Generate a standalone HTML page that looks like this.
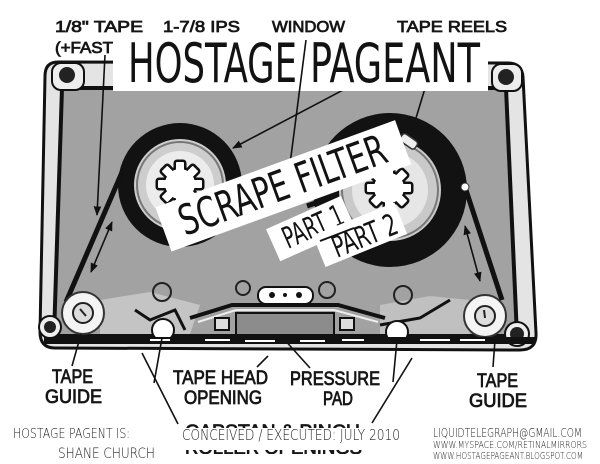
<!DOCTYPE html>
<html><head><meta charset="utf-8"><style>
html,body{margin:0;padding:0;background:#fff;}
svg{display:block}
.lb{font-family:"Liberation Sans","DejaVu Sans",sans-serif;font-weight:normal;fill:#161616;stroke:#161616;stroke-width:0.8}
.hw{font-family:"Liberation Sans Narrow","DejaVu Sans Condensed","Liberation Sans",sans-serif;fill:#121212}
.pen{font-family:"DejaVu Sans","Liberation Sans",sans-serif;font-weight:200;fill:#222}
</style></head><body>
<svg width="600" height="464" viewBox="0 0 600 464" xmlns="http://www.w3.org/2000/svg">
<defs>
<marker id="ah" viewBox="0 0 10 10" refX="9" refY="5" markerWidth="6" markerHeight="6" orient="auto-start-reverse"><path d="M0,1 L10,5 L0,9 Z" fill="#111"/></marker>
<g id="gear">
<circle r="15"/>
<rect x="-4" y="-22" width="8" height="10" rx="1"/>
<rect x="-4" y="-22" width="8" height="10" rx="1" transform="rotate(45)"/>
<rect x="-4" y="-22" width="8" height="10" rx="1" transform="rotate(90)"/>
<rect x="-4" y="-22" width="8" height="10" rx="1" transform="rotate(135)"/>
<rect x="-4" y="-22" width="8" height="10" rx="1" transform="rotate(180)"/>
<rect x="-4" y="-22" width="8" height="10" rx="1" transform="rotate(225)"/>
<rect x="-4" y="-22" width="8" height="10" rx="1" transform="rotate(270)"/>
<rect x="-4" y="-22" width="8" height="10" rx="1" transform="rotate(315)"/>
</g>
</defs>
<rect width="600" height="464" fill="#fff"/>

<!-- cassette body -->
<path d="M58,62 L508,63 Q522,63 523,77 L536,333 Q537,350 520,350 L55,348 Q40,348 40,332 L45,76 Q45,62 58,62 Z" fill="#e4e4e4" stroke="#111" stroke-width="3"/>
<path d="M62,88 L506,88 L517,336 L54,336 Z" fill="#a2a2a2" stroke="#111" stroke-width="4"/>
<path d="M100,300 L150,292 L200,305 L190,334 L100,334 Z" fill="#c4c4c4"/>
<path d="M380,305 L430,296 L470,300 L470,334 L380,334 Z" fill="#c0c0c0"/>

<!-- corners / screws -->
<rect x="52" y="63" width="32" height="27" rx="9" fill="#eee" stroke="#111" stroke-width="2"/>
<circle cx="67" cy="75" r="8" fill="#222"/>
<rect x="492" y="64" width="30" height="27" rx="9" fill="#eee" stroke="#111" stroke-width="2"/>
<circle cx="506" cy="77" r="8" fill="#222"/>
<circle cx="50" cy="327" r="11" fill="#eee" stroke="#111" stroke-width="2"/>
<circle cx="50" cy="327" r="6" fill="#222"/>
<circle cx="517" cy="334" r="12" fill="#eee" stroke="#111" stroke-width="2"/>
<circle cx="517" cy="334" r="7" fill="#222"/>

<!-- left reel -->
<circle cx="180" cy="185" r="62" fill="#121212"/>
<circle cx="180" cy="185" r="46" fill="#cdcdcd"/>
<circle cx="180" cy="185" r="43" fill="none" stroke="#777" stroke-width="2"/>
<circle cx="180" cy="185" r="34" fill="#ececec"/>
<use href="#gear" transform="translate(180,184)" fill="#111" stroke="#111" stroke-width="5"/>
<use href="#gear" transform="translate(180,184)" fill="#fff"/>

<!-- right reel -->
<circle cx="390" cy="190" r="77" fill="#121212"/>
<circle cx="390" cy="190" r="51" fill="#c9c9c9"/>
<circle cx="390" cy="190" r="48" fill="none" stroke="#777" stroke-width="2"/>
<circle cx="390" cy="190" r="38" fill="#e6e6e6"/>
<use href="#gear" transform="translate(389,188)" fill="#111" stroke="#111" stroke-width="5"/>
<use href="#gear" transform="translate(389,188)" fill="#fff"/>
<rect x="400" y="137" width="18" height="9" rx="3" fill="#eee" stroke="#333" stroke-width="1.5" transform="rotate(35,409,141)"/>

<!-- tape -->
<path d="M123,170 Q102,218 66,302" fill="none" stroke="#111" stroke-width="5"/>
<path d="M465,187 L502,300" fill="none" stroke="#111" stroke-width="5"/>
<circle cx="465" cy="187" r="4" fill="#fff" stroke="#333" stroke-width="1"/>

<!-- guides -->
<circle cx="83" cy="313" r="21" fill="#f4f4f4" stroke="#333" stroke-width="2"/>
<circle cx="83" cy="313" r="10" fill="#ddd" stroke="#222" stroke-width="2"/>
<line x1="80" y1="309" x2="86" y2="316" stroke="#222" stroke-width="2"/>
<circle cx="485" cy="316" r="21" fill="#f4f4f4" stroke="#333" stroke-width="2"/>
<circle cx="485" cy="316" r="10" fill="#ddd" stroke="#222" stroke-width="2"/>
<line x1="484" y1="310" x2="485" y2="318" stroke="#222" stroke-width="2"/>

<!-- mechanism -->
<g fill="none" stroke="#222" stroke-width="2">
<circle cx="162" cy="292" r="9"/>
<circle cx="243" cy="288" r="7"/>
<circle cx="327" cy="290" r="8"/>
<circle cx="403" cy="295" r="9"/>
</g>
<rect x="258" y="287" width="55" height="17" rx="8" fill="#fff" stroke="#111" stroke-width="2"/>
<circle cx="272" cy="295" r="3" fill="#111"/><circle cx="285" cy="295" r="2" fill="#111"/><circle cx="299" cy="295" r="3" fill="#111"/>
<path d="M190,318 L232,305 L338,305 L385,318" fill="none" stroke="#111" stroke-width="4"/>
<path d="M198,322 L236,310 L334,310 L378,322" fill="none" stroke="#eee" stroke-width="2"/>
<rect x="236" y="313" width="98" height="22" fill="#8c8c8c" stroke="#111" stroke-width="2"/>
<path d="M135,310 L150,320 L175,310 L185,330" fill="none" stroke="#111" stroke-width="3"/>
<path d="M380,325 L420,318 L450,300" fill="none" stroke="#111" stroke-width="3"/>
<rect x="215" y="318" width="14" height="12" fill="#ddd" stroke="#111" stroke-width="2"/>
<rect x="340" y="318" width="14" height="12" fill="#ddd" stroke="#111" stroke-width="2"/>
<circle cx="163" cy="330" r="11" fill="#fff" stroke="#111" stroke-width="2"/>
<circle cx="397" cy="332" r="11" fill="#fff" stroke="#111" stroke-width="2"/>
<rect x="44" y="337" width="491" height="7" fill="#111"/>
<g fill="#fff">
<rect x="150" y="339" width="20" height="2"/><rect x="205" y="339" width="25" height="2"/>
<rect x="245" y="340" width="30" height="2"/><rect x="300" y="340" width="25" height="2"/>
<rect x="342" y="339" width="22" height="2"/><rect x="420" y="339" width="30" height="2"/>
<rect x="460" y="339" width="25" height="2"/>
</g>

<!-- partially hidden capstan label (drawn before leaders) -->
<text class="lb" x="185" y="438" font-size="19" textLength="175" lengthAdjust="spacingAndGlyphs">CAPSTAN &amp; PINCH</text>
<text class="lb" x="185" y="454" font-size="19" textLength="177" lengthAdjust="spacingAndGlyphs">ROLLER OPENINGS</text>
<rect x="168" y="428" width="245" height="22" fill="#fff"/>
<rect x="168" y="454" width="245" height="10" fill="#fff"/>

<!-- leader lines -->
<g stroke="#111" stroke-width="1.6" fill="none">
<line x1="105" y1="55" x2="97" y2="215" marker-end="url(#ah)"/>
<line x1="112" y1="222" x2="91" y2="272" marker-start="url(#ah)" marker-end="url(#ah)"/>
<line x1="465" y1="226" x2="480" y2="281" marker-start="url(#ah)" marker-end="url(#ah)"/>
<line x1="400" y1="60" x2="233" y2="148" marker-end="url(#ah)"/>
<line x1="426" y1="85" x2="416" y2="118"/>
<line x1="72" y1="366" x2="81" y2="334"/>
<line x1="142" y1="353" x2="178" y2="424"/>
<line x1="162" y1="338" x2="154" y2="383"/>
<line x1="257" y1="367" x2="268" y2="356"/>
<line x1="283" y1="338" x2="310" y2="368"/>
<line x1="412" y1="358" x2="372" y2="423"/>
<line x1="397" y1="340" x2="393" y2="382"/>
<line x1="495" y1="340" x2="493" y2="367"/>
</g>

<!-- top labels -->
<text class="lb" x="55" y="32" font-size="16" textLength="88" lengthAdjust="spacingAndGlyphs">1/8" TAPE</text>
<text class="lb" x="55" y="53" font-size="16" textLength="58" lengthAdjust="spacingAndGlyphs">(+FAST</text>
<text class="lb" x="163" y="32" font-size="16" textLength="77" lengthAdjust="spacingAndGlyphs">1-7/8 IPS</text>
<text class="lb" x="272" y="32" font-size="16" textLength="73" lengthAdjust="spacingAndGlyphs">WINDOW</text>
<text class="lb" x="397" y="32" font-size="16" textLength="110" lengthAdjust="spacingAndGlyphs">TAPE REELS</text>

<!-- HOSTAGE PAGEANT patch -->
<rect x="113" y="36" width="375" height="55" fill="#fff"/>
<line x1="306" y1="40" x2="289" y2="172" stroke="#111" stroke-width="1.6"/>
<text class="hw" x="128" y="82" font-size="54" textLength="169" lengthAdjust="spacingAndGlyphs">HOSTAGE</text>
<text class="hw" x="310" y="82" font-size="54" textLength="170" lengthAdjust="spacingAndGlyphs">PAGEANT</text>

<!-- SCRAPE FILTER patches -->
<g transform="translate(185,236) rotate(-20)">
<rect x="-18" y="-37" width="255" height="47" fill="#fff"/>
<text class="hw" x="0" y="0" font-size="42" textLength="218" lengthAdjust="spacingAndGlyphs">SCRAPE FILTER</text>
</g>
<line x1="307" y1="206" x2="333" y2="197" stroke="#111" stroke-width="5"/>
<g transform="translate(288,249) rotate(-24)">
<rect x="-12" y="-27" width="82" height="35" fill="#fff"/>
<text class="hw" x="0" y="0" font-size="30" textLength="64" lengthAdjust="spacingAndGlyphs">PART 1</text>
</g>
<g transform="translate(337,258) rotate(-22)">
<rect x="-14" y="-30" width="88" height="34" fill="#fff"/>
<text class="hw" x="0" y="0" font-size="30" textLength="68" lengthAdjust="spacingAndGlyphs">PART 2</text>
</g>
<line x1="320" y1="241" x2="354" y2="228" stroke="#111" stroke-width="2"/>

<!-- bottom labels -->
<text class="lb" x="52" y="383" font-size="19" textLength="41" lengthAdjust="spacingAndGlyphs">TAPE</text>
<text class="lb" x="45" y="403" font-size="19" textLength="57" lengthAdjust="spacingAndGlyphs">GUIDE</text>
<text class="lb" x="173" y="384" font-size="19" textLength="95" lengthAdjust="spacingAndGlyphs">TAPE HEAD</text>
<text class="lb" x="184" y="404" font-size="19" textLength="78" lengthAdjust="spacingAndGlyphs">OPENING</text>
<text class="lb" x="290" y="385" font-size="19" textLength="90" lengthAdjust="spacingAndGlyphs">PRESSURE</text>
<text class="lb" x="323" y="405" font-size="19" textLength="30" lengthAdjust="spacingAndGlyphs">PAD</text>
<text class="lb" x="477" y="387" font-size="19" textLength="41" lengthAdjust="spacingAndGlyphs">TAPE</text>
<text class="lb" x="469" y="407" font-size="19" textLength="58" lengthAdjust="spacingAndGlyphs">GUIDE</text>

<!-- handwriting -->
<text class="pen" x="13" y="438" font-size="13" textLength="117" lengthAdjust="spacingAndGlyphs">HOSTAGE PAGENT IS:</text>
<text class="pen" x="58" y="458" font-size="14" textLength="97" lengthAdjust="spacingAndGlyphs">SHANE CHURCH</text>
<text class="pen" x="182" y="440" font-size="15" textLength="218" lengthAdjust="spacingAndGlyphs">CONCEIVED / EXECUTED: JULY 2010</text>
<text class="pen" x="433" y="437" font-size="12" textLength="149" lengthAdjust="spacingAndGlyphs">LIQUIDTELEGRAPH@GMAIL.COM</text>
<text class="pen" x="433" y="448" font-size="10" textLength="154" lengthAdjust="spacingAndGlyphs">WWW.MYSPACE.COM/RETINALMIRRORS</text>
<text class="pen" x="433" y="459" font-size="10" textLength="150" lengthAdjust="spacingAndGlyphs">WWW.HOSTAGEPAGEANT.BLOGSPOT.COM</text>
</svg>
</body></html>
